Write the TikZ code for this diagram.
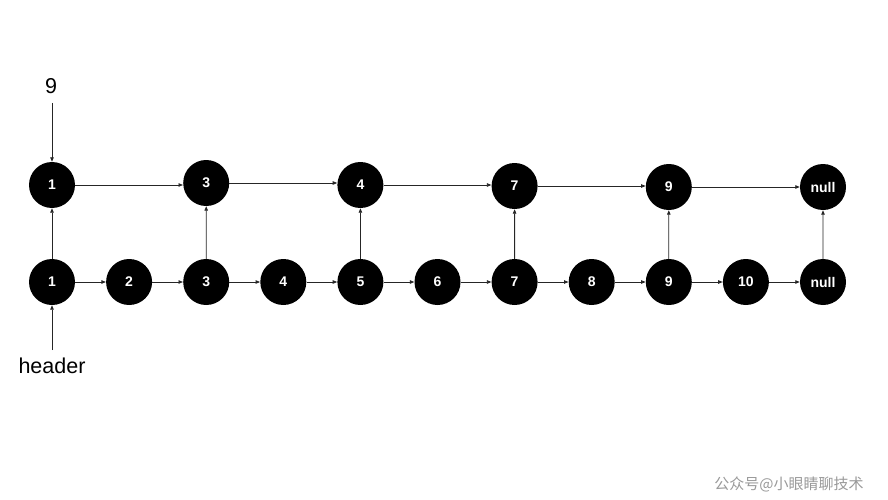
\documentclass[tikz,border=0pt]{standalone}
\usepackage{fontspec}
\setmainfont{Liberation Sans}
\newfontfamily\cjk{Noto Sans CJK SC}
\usetikzlibrary{arrows.meta}
\begin{document}
\begin{tikzpicture}[x=1pt,y=-1pt,
  nd/.style={circle,fill=black,minimum size=46pt,inner sep=0pt,text=white,font=\bfseries\fontsize{14}{16}\selectfont},
  lbl/.style={font=\fontsize{21.5}{25}\selectfont},
  arr/.style={draw=black!85,line width=0.8pt,-{Triangle[length=4.5pt,width=3.5pt]}}]
\useasboundingbox (0,0) rectangle (888,500);
% bottom row
\foreach \i/\t [count=\k from 0] in {1/1,2/2,3/3,4/4,5/5,6/6,7/7,8/8,9/9,10/10,11/null}{
  \node[nd] (b\i) at ({52+77.1*\k},282) {\t};
}
% top row
\node[nd] (t1) at (52,185) {1};
\node[nd] (t3) at (206.2,183) {3};
\node[nd] (t5) at (360.4,185) {4};
\node[nd] (t7) at (514.6,186) {7};
\node[nd] (t9) at (668.8,187) {9};
\node[nd] (t11) at (823,187) {null};
% bottom connectors
\foreach \i [evaluate=\i as \j using int(\i+1)] in {1,...,10}{
  \draw[arr] (b\i) -- (b\j);
}
% top connectors
\draw[arr] (t1) -- (t1 -| t3.west);
\draw[arr] (t3) -- (t3 -| t5.west);
\draw[arr] (t5) -- (t5 -| t7.west);
\draw[arr] (t7) -- (t7 -| t9.west);
\draw[arr] (t9) -- (t9 -| t11.west);
% vertical
\foreach \i in {1,3,5,7,9,11}{
  \draw[arr] (b\i) -- (t\i);
}
% labels
\node[lbl] (nine) at (51,86) {9};
\node[lbl] (hdr) at (52,366) {header};
\coordinate (ninebot) at (52,103);
\coordinate (hdrtop) at (52,350);
\draw[arr] (ninebot) -- (t1);
\draw[arr] (hdrtop) -- (b1);
\node[text=black!40,font=\cjk\fontsize{15}{18}\selectfont] (wm) at (789,484) {公众号@小眼睛聊技术};
\end{tikzpicture}
\end{document}
